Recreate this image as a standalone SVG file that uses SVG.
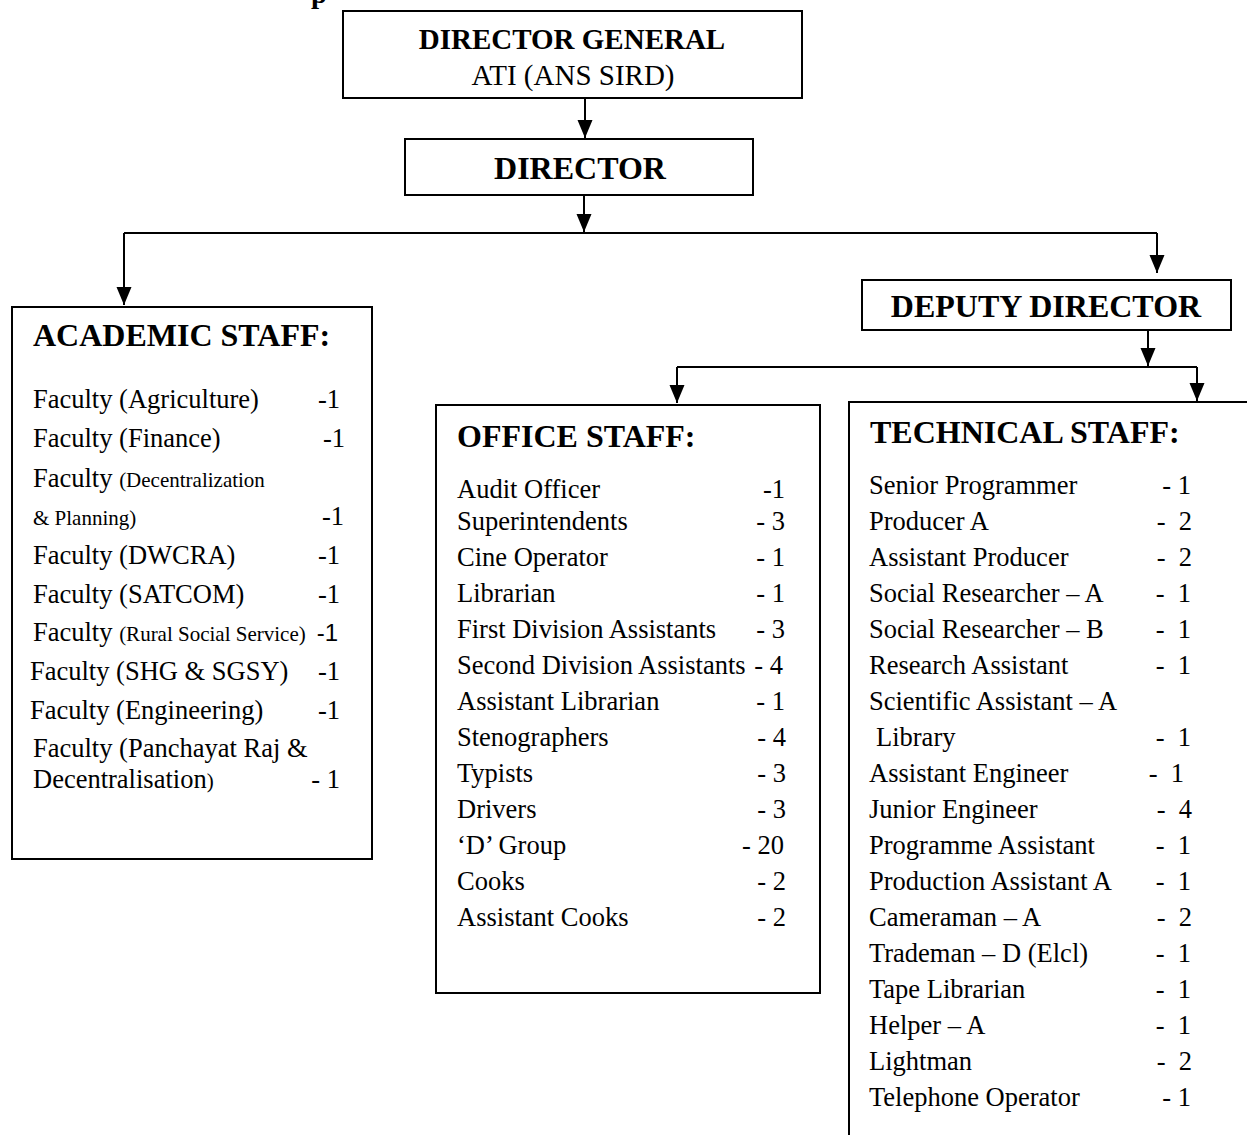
<svg xmlns="http://www.w3.org/2000/svg" width="1247" height="1135" viewBox="0 0 1247 1135">
<defs>
<marker id="arr" markerUnits="userSpaceOnUse" markerWidth="20" markerHeight="16" refX="18" refY="7.5" orient="auto">
<path d="M0,0 L18,7.5 L0,15 z" fill="#000"/>
</marker>
<style>
.box{fill:#fff;stroke:#000;stroke-width:2}
.ln{fill:none;stroke:#000;stroke-width:2}
.t{font-family:'Liberation Serif','Times New Roman',serif;font-size:26.5px;fill:#000}
.h{font-family:'Liberation Serif','Times New Roman',serif;font-size:32px;font-weight:bold;fill:#000}
.dg{font-family:'Liberation Serif','Times New Roman',serif;font-size:29px;fill:#000}
.sm{font-size:21px}
.n{text-anchor:end}
.s{font-family:'Liberation Sans',Arial,sans-serif;font-size:24px;fill:#000}
</style>
</defs>
<rect width="1247" height="1135" fill="#fff"/>
<text class="dg" x="311" y="3" font-weight="bold">p</text>

<g id="connectors">
<path class="ln" d="M585,98 V138" marker-end="url(#arr)"/>
<path class="ln" d="M584,195 V232" marker-end="url(#arr)"/>
<path class="ln" d="M124,233 H1157"/>
<path class="ln" d="M124,233 V305" marker-end="url(#arr)"/>
<path class="ln" d="M1157,233 V273" marker-end="url(#arr)"/>
<path class="ln" d="M1148,330 V366" marker-end="url(#arr)"/>
<path class="ln" d="M677,367 H1197"/>
<path class="ln" d="M677,367 V403" marker-end="url(#arr)"/>
<path class="ln" d="M1197,367 V401" marker-end="url(#arr)"/>
</g>

<g id="director-general">
<rect class="box" x="343" y="11" width="459" height="87"/>
<text class="dg" x="572" y="49" text-anchor="middle" font-weight="bold">DIRECTOR GENERAL</text>
<text class="dg" x="573" y="85" text-anchor="middle">ATI (ANS SIRD)</text>
</g>

<g id="director">
<rect class="box" x="405" y="139" width="348" height="56"/>
<text class="h" x="580" y="179" text-anchor="middle">DIRECTOR</text>
</g>

<g id="deputy-director">
<rect class="box" x="862" y="280" width="369" height="50"/>
<text class="h" x="1046" y="317" text-anchor="middle">DEPUTY DIRECTOR</text>
</g>

<g id="academic-staff">
<rect class="box" x="12" y="307" width="360" height="552"/>
<text class="h" x="33" y="346">ACADEMIC STAFF:</text>
<text class="t" x="33" y="408">Faculty (Agriculture)</text><text class="t n" x="340" y="408">-1</text>
<text class="t" x="33" y="447">Faculty (Finance)</text><text class="t n" x="345" y="447">-1</text>
<text class="t" x="33" y="487">Faculty <tspan class="sm">(Decentralization</tspan></text>
<text class="t sm" x="33" y="525">&amp; Planning)</text><text class="t n" x="344" y="525">-1</text>
<text class="t" x="33" y="564">Faculty (DWCRA)</text><text class="t n" x="340" y="564">-1</text>
<text class="t" x="33" y="603">Faculty (SATCOM)</text><text class="t n" x="340" y="603">-1</text>
<text class="t" x="33" y="641">Faculty <tspan class="sm">(Rural Social Service)</tspan></text><text class="s n" x="338" y="641">-1</text>
<text class="t" x="30" y="680">Faculty (SHG &amp; SGSY)</text><text class="t n" x="340" y="680">-1</text>
<text class="t" x="30" y="719">Faculty (Engineering)</text><text class="t n" x="340" y="719">-1</text>
<text class="t" x="33" y="757">Faculty (Panchayat Raj &amp;</text>
<text class="t" x="33" y="788">Decentralisation<tspan class="sm">)</tspan></text><text class="t n" x="340" y="788">- 1</text>
</g>

<g id="office-staff">
<rect class="box" x="436" y="405" width="384" height="588"/>
<text class="h" x="457" y="447">OFFICE STAFF:</text>
<text class="t" x="457" y="498">Audit Officer</text><text class="t n" x="785" y="498">-1</text>
<text class="t" x="457" y="530">Superintendents</text><text class="t n" x="785" y="530">- 3</text>
<text class="t" x="457" y="566">Cine Operator</text><text class="t n" x="785" y="566">- 1</text>
<text class="t" x="457" y="602">Librarian</text><text class="t n" x="785" y="602">- 1</text>
<text class="t" x="457" y="638">First Division Assistants</text><text class="t n" x="785" y="638">- 3</text>
<text class="t" x="457" y="674">Second Division Assistants</text><text class="t n" x="783" y="674">- 4</text>
<text class="t" x="457" y="710">Assistant Librarian</text><text class="t n" x="785" y="710">- 1</text>
<text class="t" x="457" y="746">Stenographers</text><text class="t n" x="786" y="746">- 4</text>
<text class="t" x="457" y="782">Typists</text><text class="t n" x="786" y="782">- 3</text>
<text class="t" x="457" y="818">Drivers</text><text class="t n" x="786" y="818">- 3</text>
<text class="t" x="457" y="854">‘D’ Group</text><text class="t n" x="784" y="854">- 20</text>
<text class="t" x="457" y="890">Cooks</text><text class="t n" x="786" y="890">- 2</text>
<text class="t" x="457" y="926">Assistant Cooks</text><text class="t n" x="786" y="926">- 2</text>
</g>

<g id="technical-staff">
<path class="ln" d="M849,1136 V402 H1248"/>
<text class="h" x="870" y="443">TECHNICAL STAFF:</text>
<text class="t" x="869" y="494">Senior Programmer</text><text class="t n" x="1191" y="494">- 1</text>
<text class="t" x="869" y="530">Producer  A</text><text class="t n" x="1192" y="530" xml:space="preserve">-  2</text>
<text class="t" x="869" y="566">Assistant Producer</text><text class="t n" x="1192" y="566" xml:space="preserve">-  2</text>
<text class="t" x="869" y="602">Social Researcher – A</text><text class="t n" x="1191" y="602" xml:space="preserve">-  1</text>
<text class="t" x="869" y="638">Social Researcher – B</text><text class="t n" x="1191" y="638" xml:space="preserve">-  1</text>
<text class="t" x="869" y="674">Research Assistant</text><text class="t n" x="1191" y="674" xml:space="preserve">-  1</text>
<text class="t" x="869" y="710">Scientific Assistant – A</text>
<text class="t" x="876" y="746">Library</text><text class="t n" x="1191" y="746" xml:space="preserve">-  1</text>
<text class="t" x="869" y="782">Assistant Engineer</text><text class="t n" x="1184" y="782" xml:space="preserve">-  1</text>
<text class="t" x="869" y="818">Junior Engineer</text><text class="t n" x="1192" y="818" xml:space="preserve">-  4</text>
<text class="t" x="869" y="854">Programme Assistant</text><text class="t n" x="1191" y="854" xml:space="preserve">-  1</text>
<text class="t" x="869" y="890">Production Assistant A</text><text class="t n" x="1191" y="890" xml:space="preserve">-  1</text>
<text class="t" x="869" y="926">Cameraman – A</text><text class="t n" x="1192" y="926" xml:space="preserve">-  2</text>
<text class="t" x="869" y="962">Trademan – D (Elcl)</text><text class="t n" x="1191" y="962" xml:space="preserve">-  1</text>
<text class="t" x="869" y="998">Tape Librarian</text><text class="t n" x="1191" y="998" xml:space="preserve">-  1</text>
<text class="t" x="869" y="1034">Helper – A</text><text class="t n" x="1191" y="1034" xml:space="preserve">-  1</text>
<text class="t" x="869" y="1070">Lightman</text><text class="t n" x="1192" y="1070" xml:space="preserve">-  2</text>
<text class="t" x="869" y="1106">Telephone Operator</text><text class="t n" x="1191" y="1106">- 1</text>
</g>
</svg>
